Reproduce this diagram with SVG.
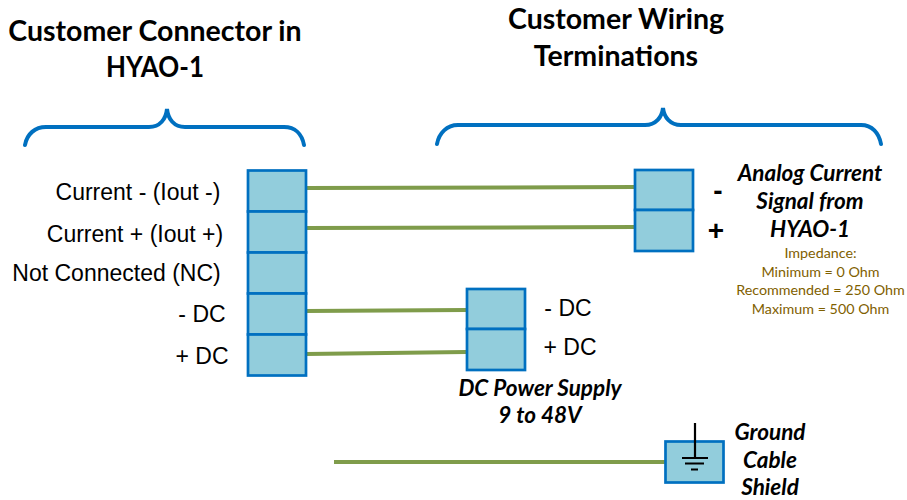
<svg xmlns="http://www.w3.org/2000/svg" width="907" height="500" viewBox="0 0 907 500">
<style>
.cell{fill:#92cddc;stroke:#0070c0;stroke-width:2.7}
.wire{fill:none;stroke:#7f9c4b;stroke-width:4}
.brace{fill:none;stroke:#0070c0;stroke-width:4;stroke-linecap:round}
.gnd{fill:none;stroke:#000;stroke-width:2.2}
text{text-anchor:middle}
.title{font:bold 28.500px Lato,"Liberation Sans",sans-serif;fill:#000}
.label{font:23px "Liberation Sans",Arial,sans-serif;fill:#000}
.ital{font:italic bold 22.500px Lato,"Liberation Sans",sans-serif;fill:#000}
.note{font:14.300px Lato,"Liberation Sans",sans-serif;fill:#7f6000}
.sign{font:bold 28px "Liberation Sans",sans-serif;fill:#000}
</style>
<rect width="907" height="500" fill="#fff"/>
<g id="connectors">
<path class="wire" d="M306 188L634 187"/>
<path class="wire" d="M306 228L634 227"/>
<path class="wire" d="M306 311L466 310"/>
<path class="wire" d="M306 354L466 352"/>
<path class="wire" d="M334 462L665 462"/>
</g>
<g id="brace-left"><path class="brace" d="M25 145C27 134 35 127 46 127H149C160 127 166 119 167 109C168 119 174 127 185 127H284C295 127 302 134 304 145"/></g>
<g id="brace-right"><path class="brace" d="M437 144C439 133 447 125 458 125H645C656 125 662 117 663 108C664 117 670 125 681 125H861C872 125 879 133 881 144"/></g>
<g id="title-left"><text class="title" x="155" y="41">Customer Connector in</text><text class="title" x="155" y="77" textLength="98" lengthAdjust="spacingAndGlyphs">HYAO-1</text></g>
<g id="title-right"><text class="title" x="616" y="29">Customer Wiring</text><text class="title" x="616" y="66">Terminations</text></g>
<g id="connector-hyao">
<rect class="cell" x="248" y="170.500" width="58" height="41"/>
<rect class="cell" x="248" y="211.500" width="58" height="41"/>
<rect class="cell" x="248" y="252.500" width="58" height="41"/>
<rect class="cell" x="248" y="293.500" width="58" height="41"/>
<rect class="cell" x="248" y="334.500" width="58" height="41"/>
<text class="label" x="138" y="200">Current - (Iout -)</text>
<text class="label" x="135" y="242">Current + (Iout +)</text>
<text class="label" x="116.500" y="281">Not Connected (NC)</text>
<text class="label" x="202" y="322">- DC</text>
<text class="label" x="202" y="364">+ DC</text>
</g>
<g id="analog-terminal">
<rect class="cell" x="635" y="170" width="58" height="40"/>
<rect class="cell" x="635" y="210" width="58" height="41"/>
<text class="sign" x="718" y="200">-</text>
<text class="sign" x="716" y="240">+</text>
<text class="ital" x="810" y="181">Analog Current</text>
<text class="ital" x="810" y="209">Signal from</text>
<text class="ital" x="810" y="237">HYAO-1</text>
<text class="note" x="820.500" y="258">Impedance:</text>
<text class="note" x="820.500" y="277">Minimum = 0 Ohm</text>
<text class="note" x="820.500" y="295">Recommended = 250 Ohm</text>
<text class="note" x="820.500" y="314">Maximum = 500 Ohm</text>
</g>
<g id="dc-supply">
<rect class="cell" x="467" y="289" width="58" height="40"/>
<rect class="cell" x="467" y="329" width="58" height="41"/>
<text class="label" x="568" y="316">- DC</text>
<text class="label" x="570" y="355">+ DC</text>
<text class="ital" x="540" y="396">DC Power Supply</text>
<text class="ital" x="540" y="423">9 to 48V</text>
</g>
<g id="ground">
<rect class="cell" x="665.500" y="441.500" width="58" height="41"/>
<path class="gnd" d="M695 423V458M682 458H708M685 463.500H704M691 469.500H698"/>
<text class="ital" x="770" y="440">Ground</text>
<text class="ital" x="770" y="468">Cable</text>
<text class="ital" x="770" y="495">Shield</text>
</g>
</svg>
